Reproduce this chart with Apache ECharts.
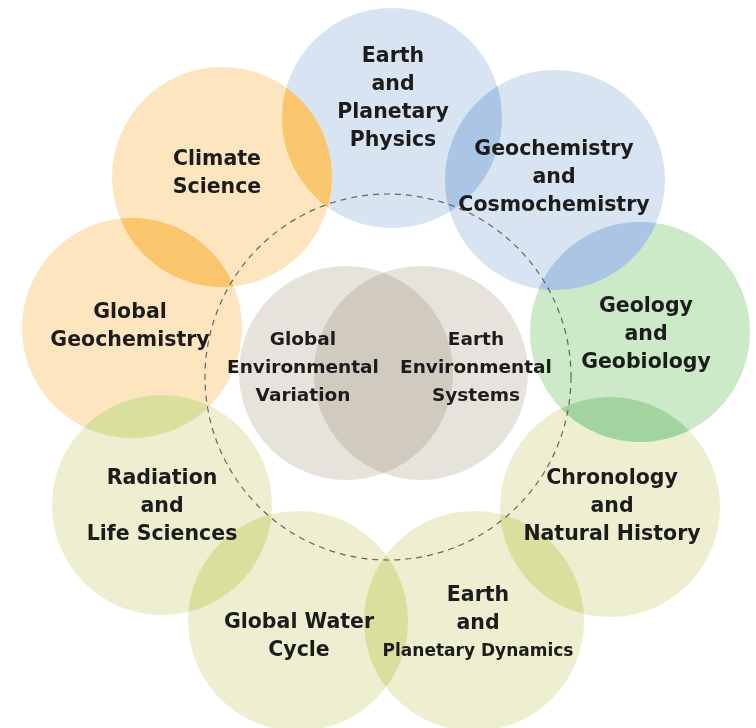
<!DOCTYPE html>
<html>
<head>
<meta charset="utf-8">
<script src="https://cdn.jsdelivr.net/npm/echarts/dist/echarts.min.js"></script>
<style>
html,body{margin:0;padding:0;background:#fff;}
#chart{width:756px;height:728px;}
</style>
</head>
<body>
<div id="chart"></div>
<script>
// ---- data ----
const circleNames = [
  'Earth\nand\nPlanetary\nPhysics',
  'Geochemistry\nand\nCosmochemistry',
  'Geology\nand\nGeobiology',
  'Chronology\nand\nNatural History',
  'Earth\nand\nPlanetary Dynamics',
  'Global Water\nCycle',
  'Radiation\nand\nLife Sciences',
  'Global\nGeochemistry',
  'Climate\nScience',
  'Global\nEnvironmental\nVariation',
  'Earth\nEnvironmental\nSystems'
];
const circleGroup = ['blue','blue','green','olive','olive','olive','olive','orange','orange','gray','gray'];
const circleX = [392, 555, 640, 610, 474, 298, 162, 132, 222, 346, 421];
const circleY = [118, 180, 332, 507, 621, 621, 505, 328, 177, 373, 373];
const circleR = [110, 110, 110, 110, 110, 110, 110, 110, 110, 107, 107];
const labelX  = [393, 554, 646, 612, 478, 299, 162, 130, 217, 303, 476];
const labelY  = [99, 178, 335, 507, 624, 637, 507, 327, 174, 368, 368];
// overlapping pairs (first circle's colour shows in the overlap)
const lensA = [0, 1, 2, 3, 4, 5, 6, 7, 8, 9];
const lensB = [1, 2, 3, 4, 5, 6, 7, 8, 0, 10];
// dashed ring
const ringX = [388];
const ringY = [377];
const ringR = [183];

// ---- styles ----
const lightColor = {orange:'#fde5bf', blue:'#d9e4f2', green:'#cce9c8', olive:'#edefd0', gray:'#e6e3dd'};
const darkColor  = {orange:'#f9c66e', blue:'#aac6e4', green:'#a2d4a0', olive:'#dadf9e', gray:'#d0cabf'};
const FONT = '"DejaVu Sans", sans-serif';
const richStyles = {
  n: {fontFamily: FONT, fontWeight: 'bold', fontSize: 20.5, lineHeight: 28, fill: '#1c1c1c', align: 'center'},
  c: {fontFamily: FONT, fontWeight: 'bold', fontSize: 18.5, lineHeight: 28, fill: '#1c1c1c', align: 'center'},
  s: {fontFamily: FONT, fontWeight: 'bold', fontSize: 17, lineHeight: 28, fill: '#1c1c1c', align: 'center'}
};
function richLabel(i){
  return circleNames[i].split('\n').map(function(line){
    let key = i >= 9 ? 'c' : 'n';
    if (line.indexOf('Dynamics') >= 0) key = 's';
    return '{' + key + '|' + line + '}';
  }).join('\n');
}

const chart = echarts.init(document.getElementById('chart'));

const circleData = circleNames.map((n, i) => [circleX[i], circleY[i], circleR[i], i]);
const lensData = lensA.map((a, k) => [a, lensB[k]]);
const ringData = ringX.map((x, i) => [x, ringY[i], ringR[i]]);
const labelData = circleNames.map((n, i) => [labelX[i], labelY[i], i]);

function lensPoints(api, a, b){
  const p1 = api.coord([circleX[a], circleY[a]]);
  const p2 = api.coord([circleX[b], circleY[b]]);
  const r1 = api.size([circleR[a], 0])[0];
  const r2 = api.size([circleR[b], 0])[0];
  const dx = p2[0]-p1[0], dy = p2[1]-p1[1];
  const d = Math.sqrt(dx*dx+dy*dy);
  if (d >= r1 + r2) return null;
  const aa = (r1*r1 - r2*r2 + d*d)/(2*d);
  const t0 = Math.atan2(dy, dx);
  const al1 = Math.acos(Math.max(-1, Math.min(1, aa/r1)));
  const al2 = Math.acos(Math.max(-1, Math.min(1, (d-aa)/r2)));
  const pts = [];
  const N = 60;
  for (let k = 0; k <= N; k++){
    const t = t0 - al1 + 2*al1*k/N;
    pts.push([p1[0] + r1*Math.cos(t), p1[1] + r1*Math.sin(t)]);
  }
  for (let k = 0; k <= N; k++){
    const t = t0 + Math.PI - al2 + 2*al2*k/N;
    pts.push([p2[0] + r2*Math.cos(t), p2[1] + r2*Math.sin(t)]);
  }
  return pts;
}

chart.setOption({
  animation: false,
  backgroundColor: '#ffffff',
  grid: {left: 0, right: 0, top: 0, bottom: 0},
  xAxis: {type: 'value', min: 0, max: 756, show: false},
  yAxis: {type: 'value', min: 0, max: 728, inverse: true, show: false},
  series: [
    {
      type: 'custom', name: 'circles', z: 1, silent: true,
      data: circleData,
      renderItem: function(params, api){
        const i = api.value(3);
        const c = api.coord([api.value(0), api.value(1)]);
        const r = api.size([api.value(2), 0])[0];
        return {type: 'circle', shape: {cx: c[0], cy: c[1], r: r},
                style: {fill: lightColor[circleGroup[i]], stroke: null}};
      }
    },
    {
      type: 'custom', name: 'overlaps', z: 2, silent: true,
      data: lensData,
      renderItem: function(params, api){
        const a = api.value(0), b = api.value(1);
        const pts = lensPoints(api, a, b);
        if (!pts) return null;
        return {type: 'polygon', shape: {points: pts},
                style: {fill: darkColor[circleGroup[a]], stroke: null}};
      }
    },
    {
      type: 'custom', name: 'ring', z: 3, silent: true,
      data: ringData,
      renderItem: function(params, api){
        const c = api.coord([api.value(0), api.value(1)]);
        const r = api.size([api.value(2), 0])[0];
        return {type: 'circle', shape: {cx: c[0], cy: c[1], r: r},
                style: {fill: 'none', stroke: '#666666', lineWidth: 1.2, lineDash: [6, 5]}};
      }
    },
    {
      type: 'custom', name: 'labels', z: 4, silent: true,
      data: labelData,
      renderItem: function(params, api){
        const i = api.value(2);
        const c = api.coord([api.value(0), api.value(1)]);
        return {type: 'text', x: c[0], y: c[1],
                style: {text: richLabel(i), rich: richStyles, fill: '#1c1c1c', align: 'center', verticalAlign: 'middle',
                        font: 'bold 20px ' + FONT, lineHeight: 28}};
      }
    }
  ]
});
</script>
</body>
</html>
